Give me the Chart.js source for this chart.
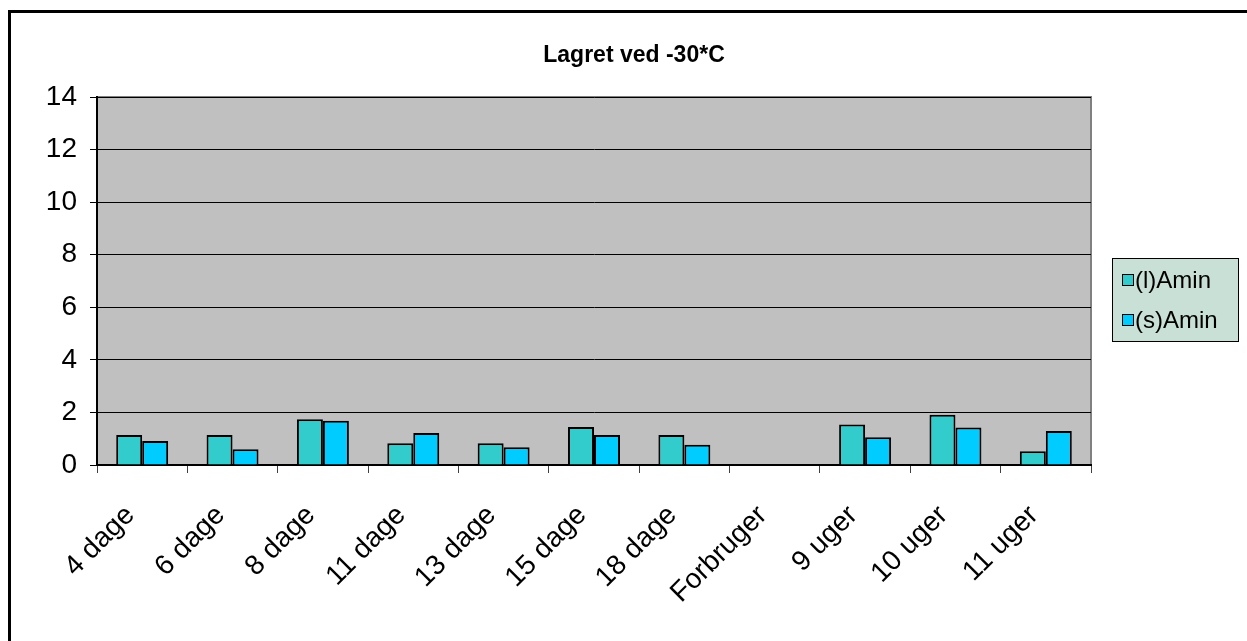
<!DOCTYPE html>
<html lang="da">
<head>
  <meta charset="UTF-8">
  <script src="https://cdn.jsdelivr.net/npm/chart.js"></script>
  <title>Lagret ved -30*C</title>
  <style>
    body { margin: 0; background: #fff; }
    .grafico { width: 1247px; height: 641px; }
  </style>
</head>
<body>
  <div class="grafico">
    <canvas id="myChart"></canvas>
  </div>

<script>
const titel = 'Lagret ved -30*C'
const kategorier = ['4 dage', '6 dage', '8 dage', '11 dage', '13 dage', '15 dage', '18 dage', 'Forbruger', '9 uger', '10 uger', '11 uger']
const lAmin = [1.14, 1.14, 1.74, 0.83, 0.83, 1.45, 1.14, null, 1.54, 1.91, 0.52]
const sAmin = [0.91, 0.60, 1.68, 1.22, 0.68, 1.14, 0.77, null, 1.06, 1.43, 1.29]
const yTicks = [0, 2, 4, 6, 8, 10, 12, 14]

const fonte = 'Arial, "Liberation Sans", sans-serif'

// grey plot area + frame, outer border, title and the boxed legend
const tegnBaggrund = {
  id: 'tegnBaggrund',
  beforeDraw(chart) {
    const { ctx, chartArea: a } = chart
    ctx.save()
    ctx.fillStyle = '#fff'
    ctx.fillRect(0, 0, chart.width, chart.height)
    ctx.fillStyle = '#c0c0c0'
    ctx.fillRect(a.left, a.top, a.right - a.left, a.bottom - a.top)
    ctx.strokeStyle = '#808080'
    ctx.lineWidth = 2
    ctx.strokeRect(a.left, a.top, a.right - a.left, a.bottom - a.top)
    ctx.restore()
  },
  afterDraw(chart) {
    const { ctx } = chart
    ctx.save()
    ctx.strokeStyle = '#000'
    ctx.lineWidth = 3
    ctx.strokeRect(9.5, 11.5, 1400, 800)

    // titel
    ctx.fillStyle = '#000'
    ctx.font = 'bold 23px ' + fonte
    ctx.textAlign = 'center'
    ctx.textBaseline = 'middle'
    ctx.fillText(titel, 634, 56)

    // legend
    const lx = 1112, ly = 258, lw = 126, lh = 83
    ctx.fillStyle = '#c9e0d6'
    ctx.fillRect(lx, ly, lw, lh)
    ctx.lineWidth = 1
    ctx.strokeRect(lx + 0.5, ly + 0.5, lw, lh)
    ctx.font = '24px ' + fonte
    ctx.textAlign = 'left'
    chart.data.datasets.forEach((ds, i) => {
      const cy = ly + 22 + i * 40
      ctx.fillStyle = ds.backgroundColor
      ctx.fillRect(lx + 10, cy - 6, 12, 12)
      ctx.strokeStyle = '#000'
      ctx.strokeRect(lx + 10.5, cy - 5.5, 11, 11)
      ctx.fillStyle = '#000'
      ctx.fillText(ds.label, lx + 23, cy + 1)
    })
    ctx.restore()
  }
}

const ctx = document.getElementById('myChart')
new Chart(ctx, {
  type: 'bar',
  data: {
    labels: kategorier,
    datasets: [{
      label: '(l)Amin',
      data: lAmin,
      backgroundColor: '#33cccc',
      borderColor: '#000',
      borderWidth: 2
    }, {
      label: '(s)Amin',
      data: sAmin,
      backgroundColor: '#00ccff',
      borderColor: '#000',
      borderWidth: 2
    }]
  },
  options: {
    responsive: true,
    maintainAspectRatio: false,
    animation: false,
    events: [],
    categoryPercentage: 0.575,
    barPercentage: 1,
    layout: { padding: { left: 0, right: 156, top: 97, bottom: 0 } },
    plugins: {
      legend: { display: false },
      tooltip: { enabled: false },
      title: { display: false }
    },
    scales: {
      x: {
        grid: { drawOnChartArea: false, drawTicks: true, tickLength: 8, color: '#404040' },
        border: { color: '#000', width: 2 },
        ticks: {
          color: '#000',
          font: { family: fonte, size: 28 },
          maxRotation: 45,
          minRotation: 45,
          padding: 26,
          labelOffset: -12,
          autoSkip: false
        },
        afterFit(scale) { scale.height = 176 }
      },
      y: {
        min: 0,
        max: 14,
        afterBuildTicks(scale) { scale.ticks = yTicks.map(v => ({ value: v })) },
        grid: { color: '#000', lineWidth: 1, tickLength: 7 },
        border: { color: '#000', width: 2 },
        ticks: {
          color: '#000',
          font: { family: fonte, size: 28 },
          padding: 13
        },
        afterFit(scale) { scale.width = 97 }
      }
    }
  },
  plugins: [tegnBaggrund]
})
</script>
</body>
</html>
